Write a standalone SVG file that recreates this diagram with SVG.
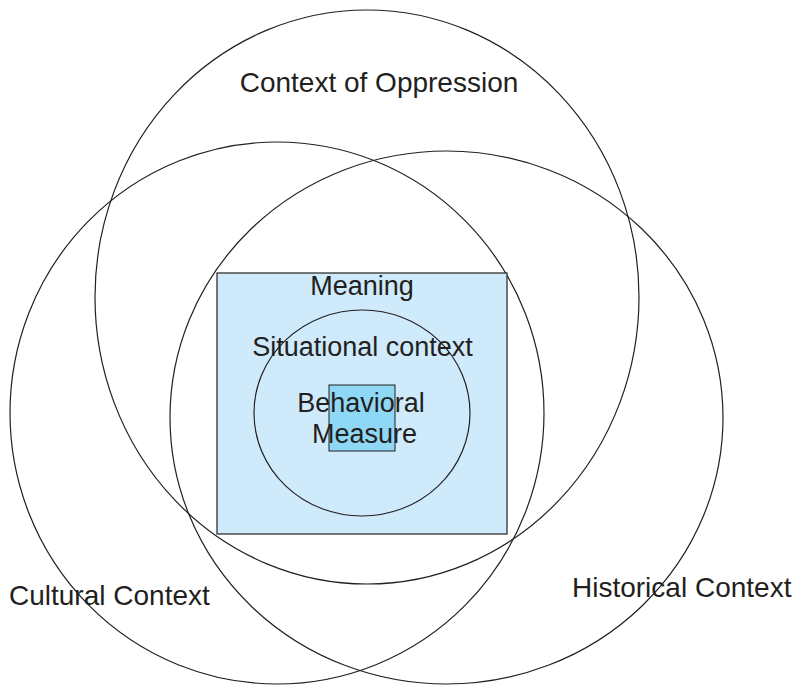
<svg xmlns="http://www.w3.org/2000/svg" width="800" height="695" viewBox="0 0 800 695">
<style>
.ring{fill:none;stroke:#231f20;stroke-width:1.2}
.lbl{font-family:"Liberation Sans",Arial,sans-serif;font-size:28px;fill:#231f20}
.in{font-size:27px}
</style>
<rect width="800" height="695" fill="#ffffff"/>
<g id="oppression">
<ellipse class="ring" cx="367" cy="297" rx="272" ry="287"/>
</g>
<g id="cultural">
<ellipse class="ring" cx="277" cy="413" rx="267" ry="271"/>
</g>
<g id="historical">
<ellipse class="ring" cx="446.5" cy="417.5" rx="276.5" ry="266.5"/>
</g>
<g id="meaning">
<rect x="217" y="273" width="290" height="261" fill="#cfeafb" stroke="#231f20" stroke-width="1.2"/>
</g>
<g id="situational">
<ellipse cx="362" cy="413" rx="108" ry="103" fill="#cfeafb" stroke="#231f20" stroke-width="1.2"/>
</g>
<g id="behavioral">
<rect x="329" y="385" width="66" height="66" fill="#8fd8f5" stroke="#231f20" stroke-width="1"/>
</g>
<g id="labels">
<text class="lbl" x="379" y="92" text-anchor="middle">Context of Oppression</text>
<text class="lbl in" x="362" y="295" text-anchor="middle">Meaning</text>
<text class="lbl in" x="362.5" y="356" text-anchor="middle">Situational context</text>
<text class="lbl in" x="361" y="412" text-anchor="middle">Behavioral</text>
<text class="lbl in" x="364.5" y="443" text-anchor="middle">Measure</text>
<text class="lbl" x="9" y="605">Cultural Context</text>
<text class="lbl" x="572" y="597">Historical Context</text>
</g>
</svg>
